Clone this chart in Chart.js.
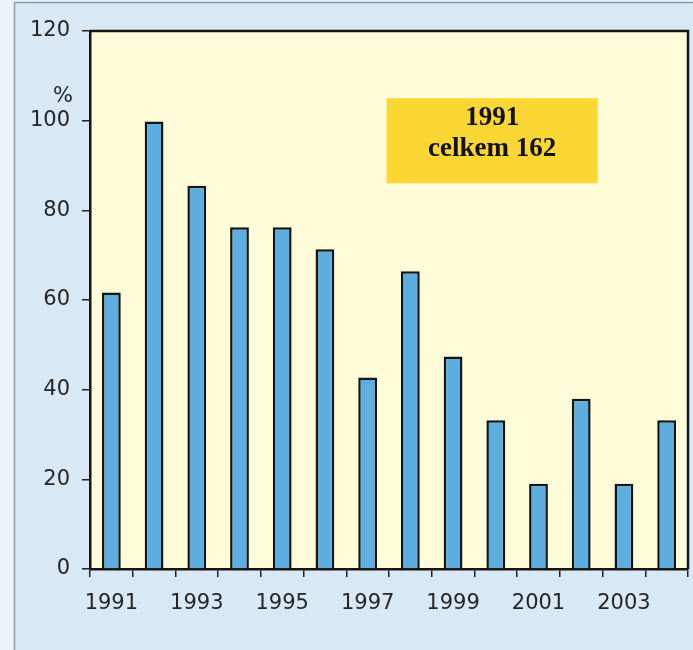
<!DOCTYPE html>
<html>
<head>
<meta charset="utf-8">
<script src="https://cdn.jsdelivr.net/npm/chart.js@4"></script>
<style>
  html, body { margin: 0; padding: 0; background: #eef3f7; }
  canvas { display: block; }
</style>
</head>
<body>
<canvas id="c" width="693" height="650"></canvas>
<script>
// Yearly share, in % (1992 = 100)
const years = ['1991','1992','1993','1994','1995','1996','1997','1998','1999','2000','2001','2002','2003','2004'];
const shares = [61.7, 99.8, 85.5, 76.2, 76.2, 71.3, 42.7, 66.4, 47.4, 33.2, 19.0, 38.0, 19.0, 33.2];
const yTicks = [0, 20, 40, 60, 80, 100, 120];
const noteLines = ['1991', 'celkem 162'];
const unitLabel = '%';

const axisFont = { family: "'DejaVu Sans', Verdana, sans-serif", size: 21 };
const textColor = '#262626';

// Panel background, plot area fill, frame, unit label and note box
const decor = {
  id: 'decor',
  beforeDraw(chart) {
    const { ctx, width, height, chartArea: a } = chart;
    ctx.save();
    ctx.fillStyle = '#eef3f7';
    ctx.fillRect(0, 0, width, height);
    ctx.fillStyle = '#d8e8f5';
    ctx.fillRect(14, 2, width - 14, height - 2);
    ctx.strokeStyle = '#8d9ba6';
    ctx.lineWidth = 1.5;
    ctx.beginPath();
    ctx.moveTo(14.5, height);
    ctx.lineTo(14.5, 2.5);
    ctx.lineTo(width, 2.5);
    ctx.stroke();
    ctx.fillStyle = '#fffcda';
    ctx.fillRect(a.left, a.top, a.right - a.left, a.bottom - a.top);
    ctx.restore();
  },
  beforeDatasetsDraw(chart) {
    const { ctx, chartArea: a } = chart;
    const w = a.right - a.left, h = a.bottom - a.top;
    const bx = a.left + w * 0.496, by = a.top + h * 0.125;
    const bw = w * 0.353, bh = h * 0.158;
    ctx.save();
    ctx.fillStyle = '#fad733';
    ctx.fillRect(bx, by, bw, bh);
    ctx.fillStyle = '#111';
    ctx.font = "bold 27px 'Liberation Serif', 'Times New Roman', serif";
    ctx.textAlign = 'center';
    ctx.textBaseline = 'middle';
    ctx.fillText(noteLines[0], bx + bw / 2, by + bh * 0.23);
    ctx.fillText(noteLines[1], bx + bw / 2, by + bh * 0.6);
    ctx.restore();
  },
  afterDraw(chart) {
    const { ctx, chartArea: a, scales } = chart;
    ctx.save();
    ctx.strokeStyle = '#151515';
    ctx.lineWidth = 2.5;
    ctx.beginPath();
    ctx.moveTo(a.left, a.top);
    ctx.lineTo(a.right, a.top);
    ctx.lineTo(a.right, a.bottom);
    ctx.stroke();
    ctx.fillStyle = textColor;
    ctx.font = `${axisFont.size}px ${axisFont.family}`;
    ctx.textAlign = 'right';
    ctx.textBaseline = 'middle';
    ctx.fillText(unitLabel, a.left - 17, scales.y.getPixelForValue(100) - 24);
    ctx.restore();
  }
};

new Chart(document.getElementById('c'), {
  type: 'bar',
  data: {
    labels: years,
    datasets: [{
      data: shares,
      backgroundColor: '#5cade0',
      borderColor: '#141414',
      borderWidth: 2.5,
      borderSkipped: 'bottom',
      barPercentage: 0.44,
      categoryPercentage: 1.0
    }]
  },
  options: {
    responsive: false,
    animation: false,
    events: [],
    layout: { padding: { top: 31, right: 5, left: 0, bottom: 0 } },
    plugins: { legend: { display: false }, tooltip: { enabled: false } },
    scales: {
      x: {
        grid: { offset: true, drawOnChartArea: false, drawTicks: true, tickLength: 8, color: '#222', lineWidth: 1.5 },
        border: { display: true, color: '#151515', width: 2.5 },
        ticks: {
          autoSkip: false, maxRotation: 0, padding: 14,
          font: axisFont, color: textColor,
          callback: (v, i) => (i % 2 === 0 ? years[i] : '')
        },
        afterFit: s => { s.height = 81; }
      },
      y: {
        min: yTicks[0], max: yTicks[yTicks.length - 1],
        afterBuildTicks: s => { s.ticks = yTicks.map(v => ({ value: v })); },
        grid: { drawOnChartArea: false, drawTicks: true, tickLength: 8, color: '#222', lineWidth: 1.5 },
        border: { display: true, color: '#151515', width: 2.5 },
        ticks: { padding: 12, font: axisFont, color: textColor },
        afterFit: s => { s.width = 90; }
      }
    }
  },
  plugins: [decor]
});
</script>
</body>
</html>
